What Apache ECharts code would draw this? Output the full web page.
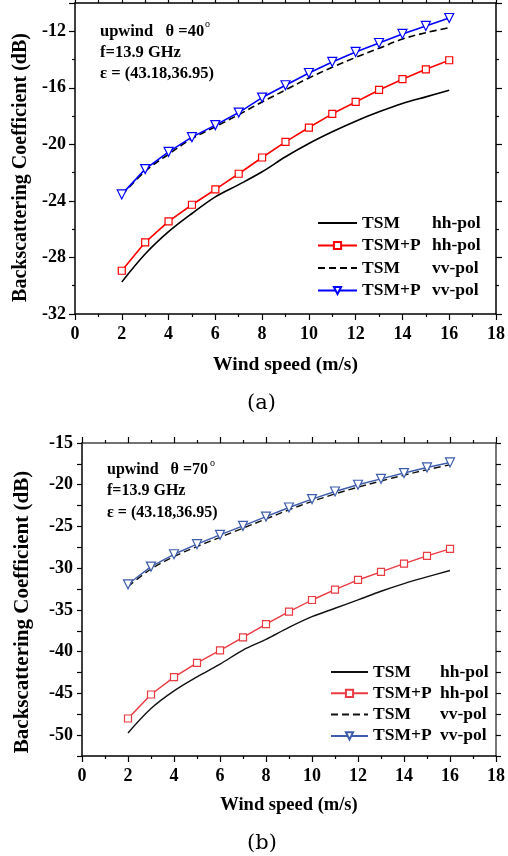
<!DOCTYPE html>
<html>
<head>
<meta charset="utf-8">
<script src="https://cdn.jsdelivr.net/npm/echarts@6/dist/echarts.min.js"></script>
<style>
  html, body { margin: 0; padding: 0; background: #fff; }
  #chart { width: 508px; height: 856px; }
</style>
</head>
<body>
<div id="chart"></div>
<script>
// wind speed (m/s)
const windSpeed = [2, 3, 4, 5, 6, 7, 8, 9, 10, 11, 12, 13, 14, 15, 16];

// (a) theta = 40 deg
const a_tsmHH = [-29.74, -27.76, -26.18, -24.89, -23.71, -22.85, -21.94, -20.88, -19.94, -19.11, -18.36, -17.7, -17.11, -16.64, -16.17];
const a_tsmpHH = [-28.94, -26.93, -25.45, -24.27, -23.19, -22.08, -20.93, -19.82, -18.81, -17.84, -17.0, -16.15, -15.39, -14.69, -14.05];
const a_tsmVV = [-23.6, -21.9, -20.7, -19.6, -18.75, -17.9, -17.0, -16.15, -15.3, -14.55, -13.85, -13.2, -12.55, -12.1, -11.75];
const a_tsmpVV = [-23.54, -21.75, -20.53, -19.49, -18.64, -17.75, -16.69, -15.82, -14.95, -14.17, -13.46, -12.83, -12.19, -11.62, -11.06];

// (b) theta = 70 deg
const b_tsmHH = [-49.74, -46.81, -44.7, -43.02, -41.5, -39.81, -38.53, -37.09, -35.81, -34.8, -33.8, -32.76, -31.84, -31.04, -30.28];
const b_tsmpHH = [-48.01, -45.13, -43.05, -41.34, -39.85, -38.29, -36.69, -35.21, -33.81, -32.57, -31.41, -30.45, -29.45, -28.53, -27.69];
const b_tsmVV = [-32.2, -30.1, -28.6, -27.4, -26.3, -25.2, -24.1, -23.0, -22.0, -21.1, -20.3, -19.55, -18.85, -18.2, -17.6];
const b_tsmpVV = [-31.93, -29.81, -28.33, -27.12, -26.0, -24.93, -23.81, -22.73, -21.72, -20.81, -20.0, -19.29, -18.6, -17.93, -17.33];

const serif = "'Liberation Serif', 'Times New Roman', serif";

function pairs(ys) {
  return windSpeed.map((x, i) => [x, ys[i]]);
}

function xAx(gridIndex, pos, labels) {
  return {
    type: "value", gridIndex: gridIndex, position: pos,
    min: 0, max: 18, interval: 2,
    name: labels ? "Wind speed (m/s)" : "",
    nameLocation: "middle",
    nameGap: gridIndex === 0 ? 41 : 40,
    nameTextStyle: { fontFamily: serif, fontWeight: "bold", fontSize: gridIndex === 0 ? 19.5 : 18.5, color: "#000" },
    axisLine: { show: true, onZero: false, lineStyle: { color: pos === "top" && gridIndex === 1 ? "#444" : "#000", width: 1.5 } },
    axisTick: { show: true, inside: false, length: 6, lineStyle: { color: "#000", width: 1.2 } },
    minorTick: { show: true, splitNumber: 2, length: 3, lineStyle: { color: "#000", width: 1.2 } },
    axisLabel: { show: labels, margin: 11, fontFamily: serif, fontWeight: "bold", fontSize: 18, color: "#000" },
    splitLine: { show: false },
    minorSplitLine: { show: false }
  };
}

function yAx(gridIndex, pos, labels) {
  const a = gridIndex === 0;
  return {
    type: "value", gridIndex: gridIndex, position: pos,
    min: a ? -32 : -52.5, max: a ? -10 : -15, interval: a ? 4 : 2.5,
    name: labels ? "Backscattering Coefficient (dB)" : "",
    nameLocation: "middle",
    nameGap: a ? 43 : 49,
    nameTextStyle: { fontFamily: serif, fontWeight: "bold", fontSize: a ? 20 : 21, color: "#000", padding: a ? [0, 18, 0, 0] : [0, 25, 0, 0] },
    axisLine: { show: true, onZero: false, lineStyle: { color: pos === "right" && !a ? "#777" : "#000", width: pos === "right" && !a ? 2 : 1.5 } },
    axisTick: { show: true, inside: false, length: a ? 6 : 5, lineStyle: { color: "#000", width: 1.2 } },
    minorTick: { show: a, splitNumber: 2, length: 3, lineStyle: { color: "#000", width: 1.2 } },
    axisLabel: {
      show: labels, margin: 9, showMaxLabel: a ? false : true,
      fontFamily: serif, fontWeight: "bold", fontSize: 18, color: "#000",
      formatter: function (v) { return a ? (v % 4 === 0 ? v : "") : (v % 5 === 0 ? v : ""); }
    },
    splitLine: { show: false },
    minorSplitLine: { show: false }
  };
}

function plainLine(name, data, idx, color, dashed, w) {
  return {
    name: name, type: "line", xAxisIndex: idx, yAxisIndex: idx,
    data: pairs(data), smooth: 0.35, showSymbol: false, symbol: "none",
    lineStyle: { color: color, width: w, type: dashed ? [7, 4] : "solid" },
    itemStyle: { color: color },
    z: 2
  };
}

function markLine(name, data, idx, color, symbol, size, w) {
  return {
    name: name, type: "line", xAxisIndex: idx, yAxisIndex: idx,
    data: pairs(data), smooth: false, symbol: symbol, symbolSize: size,
    symbolRotate: symbol === "triangle" ? 180 : 0,
    showAllSymbol: true,
    lineStyle: { color: color, width: w },
    itemStyle: { color: "#fff", borderColor: color, borderWidth: 1.2 },
    z: 3
  };
}

function legendFmt(name) {
  const p = name.split(":")[1].split(" ");
  return "{m|" + p[0] + "}{p|" + p[1] + "}";
}

// plain curves get no marker in the legend
function legendItems(prefix) {
  return [
    { name: prefix + ":TSM hh-pol", itemStyle: { opacity: 0 } },
    { name: prefix + ":TSM+P hh-pol" },
    { name: prefix + ":TSM vv-pol", itemStyle: { opacity: 0 } },
    { name: prefix + ":TSM+P vv-pol" }
  ];
}

function legend(idx, left, top, gap, mw, names) {
  return {
    orient: "vertical", left: left, top: top, itemGap: gap, padding: 0,
    itemWidth: idx === 0 ? 39 : 37, itemHeight: 9,
    selectedMode: false,
    data: names,
    formatter: legendFmt,
    textStyle: {
      fontFamily: serif, fontWeight: "bold", fontSize: 17, color: "#000",
      rich: {
        m: { width: mw, fontFamily: serif, fontWeight: "bold", fontSize: 17.5, color: "#000" },
        p: { fontFamily: serif, fontWeight: "bold", fontSize: 17.5, color: "#000" }
      }
    }
  };
}

function noteText(x, y, deg, size) {
  return [
    { type: "text", left: x, top: y, style: { text: "upwind   \u03b8 =" + deg, font: "bold " + size + "px " + serif, fill: "#000" } },
    { type: "text", left: x + (size === 16.5 ? 105 : 103), top: y - 4, style: { text: "o", font: "10px " + serif, fill: "#000" } },
    { type: "text", left: x, top: y + 21, style: { text: "f=13.9 GHz", font: "bold " + size + "px " + serif, fill: "#000" } },
    { type: "text", left: x, top: y + 42.5, style: { text: "\u03b5 = (43.18,36.95)", font: "bold " + size + "px " + serif, fill: "#000" } }
  ];
}

const redA = "#ff0000", blueA = "#0000ff";
const redB = "#ea3a42", blueB = "#3d5cab";

const chart = echarts.init(document.getElementById("chart"));
chart.setOption({
  animation: false,
  backgroundColor: "#fff",
  grid: [
    { left: 75, top: 3, width: 426, height: 311 },
    { left: 82, top: 443, width: 420, height: 313 }
  ],
  xAxis: [xAx(0, "bottom", true), xAx(0, "top", false), xAx(1, "bottom", true), xAx(1, "top", false)],
  yAxis: [yAx(0, "left", true), yAx(0, "right", false), yAx(1, "left", true), yAx(1, "right", false)],
  legend: [
    legend(0, 317, 214, 4.5, 70, legendItems("a")),
    legend(1, 330, 663, 3.3, 67, legendItems("b"))
  ],
  series: [
    plainLine("a:TSM hh-pol", a_tsmHH, 0, "#000", false, 1.6),
    markLine("a:TSM+P hh-pol", a_tsmpHH, 0, redA, "rect", 7, 1.6),
    plainLine("a:TSM vv-pol", a_tsmVV, 0, "#000", true, 1.6),
    markLine("a:TSM+P vv-pol", a_tsmpVV, 0, blueA, "triangle", 9, 1.6),
    plainLine("b:TSM hh-pol", b_tsmHH, 2, "#111", false, 1.4),
    markLine("b:TSM+P hh-pol", b_tsmpHH, 2, redB, "rect", 7, 1.4),
    plainLine("b:TSM vv-pol", b_tsmVV, 2, "#111", true, 1.4),
    markLine("b:TSM+P vv-pol", b_tsmpVV, 2, blueB, "triangle", 9, 1.4)
  ],
  graphic: [].concat(
    noteText(100, 23, "40", 16.5),
    noteText(107, 462, "70", 16),
    [
      { type: "text", left: 247, top: 393, style: { text: "(a)", font: "21px 'DejaVu Serif', " + serif, fill: "#000" } },
      { type: "text", left: 247, top: 833, style: { text: "(b)", font: "21px 'DejaVu Serif', " + serif, fill: "#000" } }
    ]
  )
});
</script>
</body>
</html>
